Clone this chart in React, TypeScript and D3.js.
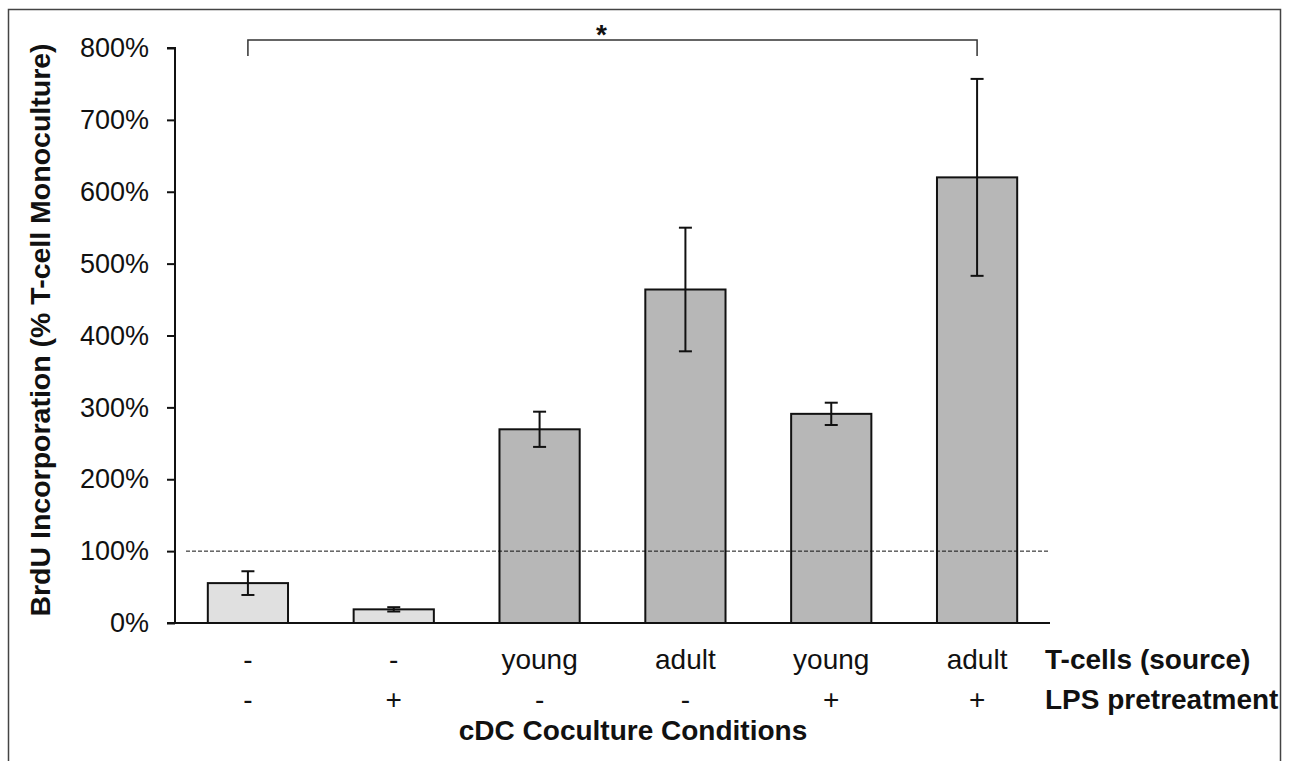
import React, { useRef, useEffect } from 'react';
import * as d3 from 'd3';

const tcellSource = ['-', '-', 'young', 'adult', 'young', 'adult'];
const lpsPretreatment = ['-', '+', '-', '-', '+', '+'];
const meanValues = [0.555, 0.19, 2.695, 4.64, 2.91, 6.2];
const errValues = [0.165, 0.03, 0.245, 0.86, 0.155, 1.37];
const barFills = ['#e0e0e0', '#e0e0e0', '#b7b7b7', '#b7b7b7', '#b7b7b7', '#b7b7b7'];
const yTicks = [0, 1, 2, 3, 4, 5, 6, 7, 8];

const App = () => {
  const svgRef = useRef(null);
  const width = 1290;
  const height = 761;

  useEffect(() => {
    const svg = d3.select(svgRef.current);
    svg.selectAll('*').remove();

    const font = 'Arial, "Liberation Sans", sans-serif';
    const idx = meanValues.map((d, i) => i);

    const x = d3
      .scaleBand()
      .domain(idx)
      .range([175, 1050])
      .paddingInner(0.45)
      .paddingOuter(0.225);

    const y = d3.scaleLinear().domain([0, 8]).range([623, 48]);

    // outer frame (bottom edge is cut off in the original)
    svg
      .append('path')
      .attr('d', 'M8.5,770 L8.5,9.5 L1280.5,9.5 L1280.5,770')
      .attr('fill', 'none')
      .attr('stroke', '#444')
      .attr('stroke-width', 1.5);

    // bars
    svg
      .selectAll('.bar')
      .data(meanValues)
      .enter()
      .append('rect')
      .attr('x', (d, i) => x(i))
      .attr('y', (d) => y(d))
      .attr('width', x.bandwidth())
      .attr('height', (d) => y(0) - y(d))
      .attr('fill', (d, i) => barFills[i])
      .attr('stroke', '#111')
      .attr('stroke-width', 2);

    // error bars
    const cx = (i) => x(i) + x.bandwidth() / 2;
    const err = svg.append('g').attr('stroke', '#111').attr('stroke-width', 2);
    meanValues.forEach((m, i) => {
      const lo = y(m - errValues[i]);
      const hi = y(m + errValues[i]);
      err.append('line').attr('x1', cx(i)).attr('x2', cx(i)).attr('y1', lo).attr('y2', hi);
      err.append('line').attr('x1', cx(i) - 6.5).attr('x2', cx(i) + 6.5).attr('y1', lo).attr('y2', lo);
      err.append('line').attr('x1', cx(i) - 6.5).attr('x2', cx(i) + 6.5).attr('y1', hi).attr('y2', hi);
    });

    // 100% reference line
    svg
      .append('line')
      .attr('x1', 186)
      .attr('x2', 1050)
      .attr('y1', y(1))
      .attr('y2', y(1))
      .attr('stroke', '#111')
      .attr('stroke-width', 1)
      .attr('stroke-dasharray', '4,2');

    // y axis
    const yAxis = svg
      .append('g')
      .attr('transform', 'translate(175,0)')
      .call(
        d3
          .axisLeft(y)
          .tickValues(yTicks)
          .tickSize(8)
          .tickPadding(18)
          .tickFormat((d) => `${d * 100}%`)
      );
    yAxis.select('.domain').attr('stroke', '#111').attr('stroke-width', 2).attr('d', `M-8,${y(8)}H0V${y(0)}`);
    yAxis.selectAll('.tick line').attr('stroke', '#111').attr('stroke-width', 2);
    yAxis
      .selectAll('.tick text')
      .attr('font-family', font)
      .attr('font-size', 27)
      .attr('fill', '#111');

    // x axis baseline
    svg
      .append('line')
      .attr('x1', 167)
      .attr('x2', 1050)
      .attr('y1', y(0))
      .attr('y2', y(0))
      .attr('stroke', '#111')
      .attr('stroke-width', 2);

    // category rows
    const rows = [
      { labels: tcellSource, title: 'T-cells (source)', yPos: 669 },
      { labels: lpsPretreatment, title: 'LPS pretreatment', yPos: 709 },
    ];
    rows.forEach((row) => {
      svg
        .append('g')
        .selectAll('text')
        .data(row.labels)
        .enter()
        .append('text')
        .attr('x', (d, i) => cx(i))
        .attr('y', row.yPos)
        .attr('text-anchor', 'middle')
        .attr('font-family', font)
        .attr('font-size', 28)
        .attr('fill', '#111')
        .text((d) => d);
      svg
        .append('text')
        .attr('x', 1045)
        .attr('y', row.yPos)
        .attr('font-family', font)
        .attr('font-size', 28)
        .attr('font-weight', 'bold')
        .attr('fill', '#111')
        .text(row.title);
    });

    svg
      .append('text')
      .attr('x', 633)
      .attr('y', 740)
      .attr('text-anchor', 'middle')
      .attr('font-family', font)
      .attr('font-size', 28)
      .attr('font-weight', 'bold')
      .attr('fill', '#111')
      .text('cDC Coculture Conditions');

    svg
      .append('text')
      .attr('transform', 'translate(50,330) rotate(-90)')
      .attr('text-anchor', 'middle')
      .attr('font-family', font)
      .attr('font-size', 28.5)
      .attr('font-weight', 'bold')
      .attr('fill', '#111')
      .text('BrdU Incorporation (% T-cell Monoculture)');

    // significance bracket
    const b1 = cx(0);
    const b2 = cx(5);
    svg
      .append('path')
      .attr('d', `M${b1},56V40H${b2}V56`)
      .attr('fill', 'none')
      .attr('stroke', '#333')
      .attr('stroke-width', 1.5);
    svg
      .append('text')
      .attr('x', (b1 + b2) / 2 - 11)
      .attr('y', 44)
      .attr('text-anchor', 'middle')
      .attr('font-family', font)
      .attr('font-size', 28)
      .attr('font-weight', 'bold')
      .attr('fill', '#111')
      .text('*');
  }, []);

  return (
    <div style={{ position: 'absolute', left: 0, top: 0 }}>
      <svg ref={svgRef} width={width} height={height} style={{ display: 'block', background: '#fff' }}></svg>
    </div>
  );
};

export default App;
